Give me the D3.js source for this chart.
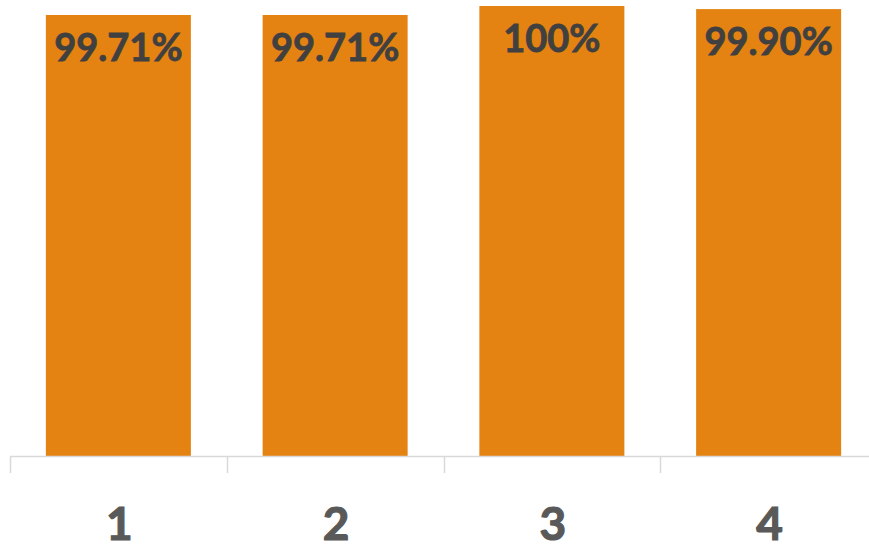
<!DOCTYPE html>
<html><head><meta charset="utf-8">
<script src="https://cdn.jsdelivr.net/npm/d3@7"></script>
<style>body{margin:0;background:#fff}svg{display:block}</style>
</head><body>
<svg id="chart" width="869" height="549"></svg>
<script>
const categories = ["1", "2", "3", "4"];
const values = [0.9971, 0.9971, 1.0, 0.999];
const valueLabels = ["99.71%", "99.71%", "100%", "99.90%"];

const svg = d3.select("#chart");
const W = 869, H = 549;
const baseY = 456.5;
const x = d3.scaleBand().domain(categories).range([10, 877]).paddingInner(0.331).paddingOuter(0.1655);
const y = d3.scaleLinear().domain([0.855, 1.0]).range([baseY, 6]);

svg.selectAll("rect.bar").data(values).join("rect")
  .attr("class", "bar")
  .attr("x", (d, i) => x(categories[i]))
  .attr("width", x.bandwidth())
  .attr("y", d => y(d))
  .attr("height", d => baseY - y(d))
  .attr("fill", "#E48312");

// axis line
svg.append("line").attr("x1", 10).attr("x2", W).attr("y1", baseY).attr("y2", baseY)
  .attr("stroke", "#d9d9d9").attr("stroke-width", 1.5);
const step = x.step();
const bounds = categories.map((c, i) => x(c) - x.paddingOuter() * step);
svg.selectAll("line.tick").data(bounds).join("line")
  .attr("class", "tick")
  .attr("x1", d => Math.round(d) + 0.5).attr("x2", d => Math.round(d) + 0.5)
  .attr("y1", baseY).attr("y2", 473)
  .attr("stroke", "#d9d9d9").attr("stroke-width", 1.5);

svg.selectAll("text.cat").data(categories).join("text")
  .attr("class", "cat")
  .attr("x", d => x(d) + x.bandwidth() / 2 + 1)
  .attr("y", 540)
  .attr("text-anchor", "middle")
  .attr("font-family", "Lato, 'Open Sans', sans-serif")
  .attr("font-weight", "bold")
  .attr("font-size", 46)
  .attr("fill", "#595959")
  .attr("stroke", "#595959")
  .attr("stroke-width", 1.2)
  .text(d => d);

svg.selectAll("text.val").data(values).join("text")
  .attr("class", "val")
  .attr("x", (d, i) => x(categories[i]) + x.bandwidth() / 2)
  .attr("y", d => y(d) + 46)
  .attr("text-anchor", "middle")
  .attr("font-family", "Lato, 'Open Sans', sans-serif")
  .attr("font-weight", "bold")
  .attr("font-size", 38)
  .attr("fill", "#404040")
  .attr("stroke", "#404040")
  .attr("stroke-width", 0.8)
  .text((d, i) => valueLabels[i]);
</script>
</body></html>
